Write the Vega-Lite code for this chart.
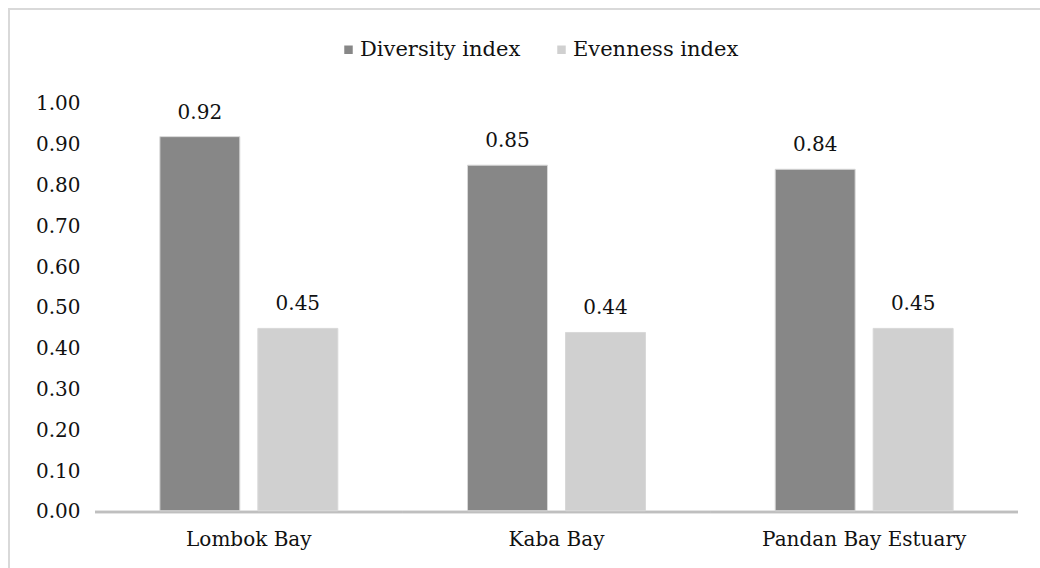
{
  "$schema": "https://vega.github.io/schema/vega-lite/v6.json",
  "width": 1095,
  "height": 591,
  "autosize": {"type": "none"},
  "padding": {"left": 9, "top": 9, "right": 0, "bottom": 0},
  "background": "white",
  "config": {
    "view": {"stroke": "#d9d9d9", "strokeWidth": 2}
  },
  "data": {
    "values": [
      {"site": "Lombok Bay", "index": "Diversity index", "value": 0.92},
      {"site": "Lombok Bay", "index": "Evenness index", "value": 0.45},
      {"site": "Kaba Bay", "index": "Diversity index", "value": 0.85},
      {"site": "Kaba Bay", "index": "Evenness index", "value": 0.44},
      {"site": "Pandan Bay Estuary", "index": "Diversity index", "value": 0.84},
      {"site": "Pandan Bay Estuary", "index": "Evenness index", "value": 0.45}
    ]
  },
  "encoding": {
    "x": {
      "field": "site", "type": "nominal", "sort": null,
      "scale": {"paddingInner": 0, "paddingOuter": 0.2795},
      "axis": {
        "title": null, "labelAngle": 0, "ticks": false, "domain": false,
        "offset": -88, "labelLimit": 0,
        "labelFont": "DejaVu Serif", "labelFontSize": 20, "labelColor": "#111",
        "labelPadding": 17
      }
    },
    "y": {
      "field": "value", "type": "quantitative",
      "scale": {"domain": [-0.2157, 1.2328], "nice": false, "zero": false},
      "axis": {
        "title": null, "grid": false, "domain": false, "ticks": false,
        "values": [0, 0.1, 0.2, 0.3, 0.4, 0.5, 0.6, 0.7, 0.8, 0.9, 1.0],
        "format": ".2f",
        "labelFont": "DejaVu Serif", "labelFontSize": 20, "labelColor": "#111",
        "labelAlign": "right",
        "labelPadding": -71
      }
    }
  },
  "layer": [
    {
      "mark": {"type": "rect", "color": "#bfbfbf"},
      "encoding": {
        "y": {"datum": 0.003, "type": "quantitative"},
        "y2": {"datum": -0.003}
      }
    },
    {
      "mark": {"type": "bar", "stroke": "#d8d8d8", "strokeWidth": 1},
      "encoding": {
        "xOffset": {
          "field": "index", "type": "nominal",
          "scale": {"paddingInner": 0.184, "paddingOuter": 0.662}
        },
        "y2": {"datum": 0.003},
        "color": {
          "field": "index", "type": "nominal",
          "scale": {"domain": ["Diversity index", "Evenness index"], "range": ["#878787", "#d0d0d0"]},
          "legend": {
            "title": null, "orient": "none", "direction": "horizontal",
            "legendX": 329, "legendY": 30,
            "symbolType": "square", "symbolSize": 72, "symbolStrokeWidth": 0,
            "labelFont": "DejaVu Serif", "labelFontSize": 21, "labelColor": "#111",
            "labelLimit": 0,
            "columnPadding": 30, "labelOffset": 1
          }
        }
      }
    },
    {
      "mark": {"type": "text", "baseline": "bottom", "dy": -14, "fontSize": 20, "font": "DejaVu Serif", "color": "#111"},
      "encoding": {
        "xOffset": {"field": "index", "type": "nominal"},
        "text": {"field": "value", "type": "quantitative", "format": ".2f"}
      }
    }
  ]
}
